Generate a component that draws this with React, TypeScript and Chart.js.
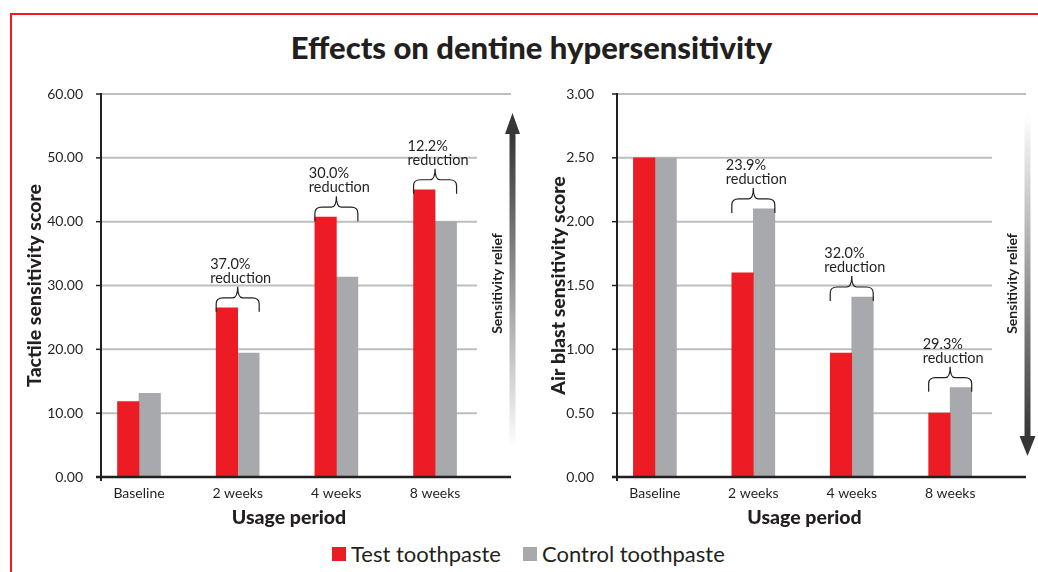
import React, { useEffect, useRef } from 'react';
import { Chart, registerables } from 'chart.js';

Chart.register(...registerables);

// ---------- data ----------
const CATEGORIES = ['Baseline', '2 weeks', '4 weeks', '8 weeks'];

const TACTILE_TEST = [11.8, 26.5, 40.7, 45.0];
const TACTILE_CONTROL = [13.1, 19.4, 31.3, 40.0];
const TACTILE_REDUCTION = ['', '37.0%', '30.0%', '12.2%'];
const TACTILE_MAX = 60;
const TACTILE_STEP = 10;

const AIR_TEST = [2.5, 1.6, 0.97, 0.5];
const AIR_CONTROL = [2.5, 2.1, 1.41, 0.7];
const AIR_REDUCTION = ['', '23.9%', '32.0%', '29.3%'];
const AIR_MAX = 3;
const AIR_STEP = 0.5;

const SERIES_NAMES = ['Test toothpaste', 'Control toothpaste'];

// ---------- style ----------
const FONT = 'Lato';
const INK = '#231f20';
const RED = '#ed1c24';
const GRAY = '#a7a9ac';
const GRID = '#bcbec0';
const HEAVY = 900;

type PanelOpts = {
  test: number[];
  control: number[];
  reductions: string[];
  yMax: number;
  yStep: number;
  yTitle: string;
  arrow: 'up' | 'down';
  yWidth: number;
  yTitlePad: number;
  yTickPad: number;
  padRight: number;
};

const framePlugin = (arrow: 'up' | 'down') => ({
  id: 'frame',
  beforeDatasetsDraw(chart: any) {
    const { ctx, chartArea: a, scales } = chart;
    const y = scales.y;
    ctx.save();
    ctx.strokeStyle = GRID;
    ctx.lineWidth = 2;
    y.ticks.forEach((t: any) => {
      if (t.value === 0) return;
      const py = y.getPixelForValue(t.value);
      const isTop = t.value === y.max;
      ctx.beginPath();
      ctx.moveTo(a.left, py);
      ctx.lineTo(isTop ? a.right + 34 : a.right, py);
      ctx.stroke();
    });
    ctx.restore();
  },
  afterDatasetsDraw(chart: any) {
    const { ctx, chartArea: a, scales } = chart;
    const y = scales.y;
    ctx.save();
    ctx.strokeStyle = INK;
    // y axis
    ctx.lineWidth = 2;
    ctx.beginPath();
    ctx.moveTo(a.left, a.top - 1);
    ctx.lineTo(a.left, a.bottom + 4);
    ctx.stroke();
    // y tick marks
    ctx.lineWidth = 1.5;
    y.ticks.forEach((t: any) => {
      const py = y.getPixelForValue(t.value);
      ctx.beginPath();
      ctx.moveTo(a.left - 5, py);
      ctx.lineTo(a.left, py);
      ctx.stroke();
    });
    // x axis
    ctx.lineWidth = 2.5;
    ctx.beginPath();
    ctx.moveTo(a.left - 5, a.bottom);
    ctx.lineTo(a.right + 34, a.bottom);
    ctx.stroke();

    // sensitivity relief arrow
    const ax = a.right + 35.5;
    const dark = '#363637';
    if (arrow === 'up') {
      const tip = a.top + 19;
      const base = a.top + 40;
      const end = a.top + 354;
      const g = ctx.createLinearGradient(0, base, 0, end);
      g.addColorStop(0, dark);
      g.addColorStop(1, '#ffffff');
      ctx.fillStyle = g;
      ctx.fillRect(ax - 3, base - 1, 6, end - base + 1);
      ctx.fillStyle = dark;
      ctx.beginPath();
      ctx.moveTo(ax - 7.5, base);
      ctx.lineTo(ax + 7.5, base);
      ctx.lineTo(ax, tip);
      ctx.closePath();
      ctx.fill();
    } else {
      const start = a.top + 21;
      const base = a.top + 342;
      const tip = a.top + 362;
      const g = ctx.createLinearGradient(0, start, 0, base);
      g.addColorStop(0, '#ffffff');
      g.addColorStop(1, dark);
      ctx.fillStyle = g;
      ctx.fillRect(ax - 3, start, 6, base - start + 1);
      ctx.fillStyle = dark;
      ctx.beginPath();
      ctx.moveTo(ax - 8, base);
      ctx.lineTo(ax + 8, base);
      ctx.lineTo(ax, tip);
      ctx.closePath();
      ctx.fill();
    }
    ctx.fillStyle = INK;
    ctx.font = `bold 14px ${FONT}`;
    ctx.textAlign = 'center';
    ctx.textBaseline = 'middle';
    ctx.translate(a.right + 20, (a.top + a.bottom) / 2 - 2);
    ctx.rotate(-Math.PI / 2);
    ctx.fillText('Sensitivity relief', 0, 0);
    ctx.restore();
  },
});

const bracePlugin = (reductions: string[]) => ({
  id: 'braces',
  afterDatasetsDraw(chart: any) {
    const { ctx } = chart;
    const m0 = chart.getDatasetMeta(0).data;
    const m1 = chart.getDatasetMeta(1).data;
    ctx.save();
    reductions.forEach((txt, i) => {
      if (!txt) return;
      const b0 = m0[i];
      const b1 = m1[i];
      const L = b0.x - b0.width / 2;
      const R = b1.x + b1.width / 2;
      const C = (L + R) / 2;
      const top = Math.min(b0.y, b1.y);
      const yEnd = top + 4;
      const yH = top - 10;
      const yTip = top - 21;
      ctx.strokeStyle = INK;
      ctx.lineWidth = 1.2;
      ctx.beginPath();
      ctx.moveTo(L, yEnd);
      ctx.lineTo(L, yH + 6);
      ctx.quadraticCurveTo(L, yH, L + 7, yH);
      ctx.lineTo(C - 5, yH);
      ctx.quadraticCurveTo(C, yH, C, yTip);
      ctx.quadraticCurveTo(C, yH, C + 5, yH);
      ctx.lineTo(R - 7, yH);
      ctx.quadraticCurveTo(R, yH, R, yH + 6);
      ctx.lineTo(R, yEnd);
      ctx.stroke();

      ctx.fillStyle = INK;
      ctx.font = `14.5px ${FONT}`;
      ctx.textAlign = 'left';
      ctx.textBaseline = 'alphabetic';
      const tx = L - 6;
      ctx.fillText(txt, tx, top - 39);
      ctx.fillText('reduction', tx, top - 25);
    });
    ctx.restore();
  },
});

function makeConfig(o: PanelOpts): any {
  return {
    type: 'bar',
    data: {
      datasets: [
        {
          label: SERIES_NAMES[0],
          data: o.test.map((v, i) => ({ x: i, y: v })),
          backgroundColor: RED,
          barThickness: 21.5,
        },
        {
          label: SERIES_NAMES[1],
          data: o.control.map((v, i) => ({ x: i, y: v })),
          backgroundColor: GRAY,
          barThickness: 21.5,
        },
      ],
    },
    options: {
      animation: false,
      responsive: false,
      maintainAspectRatio: false,
      layout: { padding: { top: 24, right: o.padRight, left: 0, bottom: 0 } },
      plugins: { legend: { display: false }, tooltip: { enabled: false } },
      scales: {
        x: {
          type: 'linear',
          offset: false,
          bounds: 'data',
          min: -0.385,
          max: 3.425,
          grid: { display: false },
          border: { display: false },
          afterBuildTicks: (s: any) => {
            s.ticks = CATEGORIES.map((_, i) => ({ value: i }));
          },
          afterFit: (s: any) => {
            s.height = 63;
          },
          ticks: {
            callback: (v: any) => CATEGORIES[Number(v)],
            font: { family: FONT, size: 14 },
            color: INK,
            padding: 0,
            autoSkip: false,
            maxRotation: 0,
          },
          title: {
            display: true,
            text: 'Usage period',
            font: { family: FONT, size: 19.5, weight: HEAVY },
            color: INK,
            padding: { top: 0, bottom: 11 },
          },
        },
        y: {
          min: 0,
          max: o.yMax,
          grid: { display: false },
          border: { display: false },
          afterFit: (s: any) => {
            s.width = o.yWidth;
          },
          ticks: {
            stepSize: o.yStep,
            callback: (v: any) => Number(v).toFixed(2),
            font: { family: FONT, size: 14 },
            color: INK,
            padding: o.yTickPad,
          },
          title: {
            display: true,
            text: o.yTitle,
            font: { family: FONT, size: 19.5, weight: HEAVY },
            color: INK,
            padding: { top: o.yTitlePad, bottom: 0 },
          },
        },
      },
    },
    plugins: [framePlugin(o.arrow), bracePlugin(o.reductions)],
  };
}

function Panel({ opts, left, width }: { opts: PanelOpts; left: number; width: number }) {
  const ref = useRef<HTMLCanvasElement | null>(null);
  useEffect(() => {
    if (!ref.current) return;
    const chart = new Chart(ref.current, makeConfig(opts));
    return () => chart.destroy();
  }, []);
  return (
    <canvas
      ref={ref}
      width={width}
      height={470}
      style={{ position: 'absolute', left, top: 70, width, height: 470 }}
    />
  );
}

const LEFT_OPTS: PanelOpts = {
  test: TACTILE_TEST,
  control: TACTILE_CONTROL,
  reductions: TACTILE_REDUCTION,
  yMax: TACTILE_MAX,
  yStep: TACTILE_STEP,
  yTitle: 'Tactile sensitivity score',
  arrow: 'up',
  yWidth: 101,
  yTitlePad: 23,
  yTickPad: 10,
  padRight: 45,
};

const RIGHT_OPTS: PanelOpts = {
  test: AIR_TEST,
  control: AIR_CONTROL,
  reductions: AIR_REDUCTION,
  yMax: AIR_MAX,
  yStep: AIR_STEP,
  yTitle: 'Air blast sensitivity score',
  arrow: 'down',
  yWidth: 98,
  yTitlePad: 28,
  yTickPad: 15,
  padRight: 46,
};

export default function App() {
  return (
    <div
      style={{
        position: 'absolute',
        left: 0,
        top: 0,
        width: 1038,
        height: 572,
        overflow: 'hidden',
        background: '#ffffff',
        fontFamily: FONT,
        color: INK,
      }}
    >
      <div
        style={{
          position: 'absolute',
          left: 10,
          top: 13,
          width: 1200,
          height: 800,
          borderTop: `2px solid ${RED}`,
          borderLeft: `2px solid ${RED}`,
        }}
      />
      <div
        style={{
          position: 'absolute',
          left: 0,
          top: 32,
          width: 1063,
          textAlign: 'center',
          fontWeight: HEAVY,
          fontSize: 31,
          lineHeight: '31px',
          whiteSpace: 'nowrap',
        }}
      >
        Effects on dentine hypersensitivity
      </div>
      <Panel opts={LEFT_OPTS} left={0} width={522} />
      <Panel opts={RIGHT_OPTS} left={519} width={519} />
      <div
        style={{
          position: 'absolute',
          left: 332,
          top: 543,
          display: 'flex',
          alignItems: 'center',
          fontSize: 22,
          lineHeight: '22px',
          whiteSpace: 'nowrap',
        }}
      >
        <span style={{ display: 'inline-block', width: 14, height: 14, background: RED, marginRight: 5 }} />
        <span>{SERIES_NAMES[0]}</span>
        <span style={{ display: 'inline-block', width: 14, height: 14, background: GRAY, marginLeft: 22, marginRight: 5 }} />
        <span>{SERIES_NAMES[1]}</span>
      </div>
    </div>
  );
}
